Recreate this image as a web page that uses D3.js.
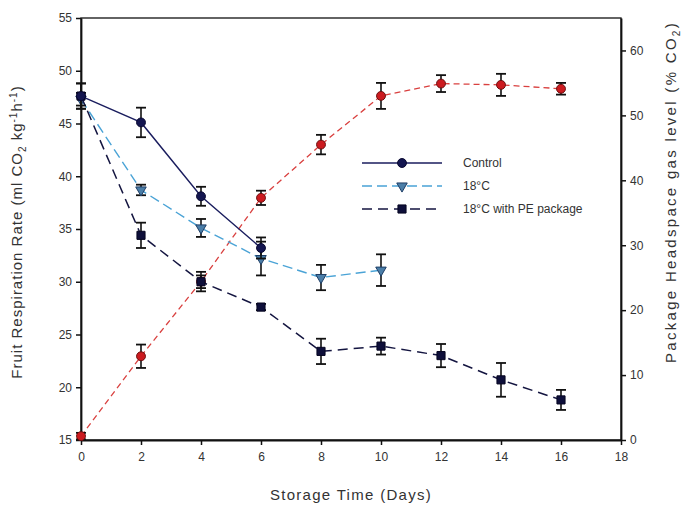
<!DOCTYPE html>
<html>
<head>
<meta charset="utf-8">
<script src="https://cdn.jsdelivr.net/npm/d3@7"></script>
<style>
  body { margin: 0; background: #fff; }
  text { font-family: "Liberation Sans", Arial, sans-serif; fill: #333; }
</style>
</head>
<body>
<div id="chart"></div>
<script>
// days and values
var days = [0, 2, 4, 6, 8, 10, 12, 14, 16]
var xTicks = [0, 2, 4, 6, 8, 10, 12, 14, 16, 18]
var leftTicks = [15, 20, 25, 30, 35, 40, 45, 50, 55]
var rightTicks = [0, 10, 20, 30, 40, 50, 60]

var controlVals = [47.6, 45.1, 38.1, 33.2]
var controlErr = [1.2, 1.4, 0.9, 1.0]
var c18Vals = [47.3, 38.7, 35.1, 32.2, 30.4, 31.1]
var c18Err = [0.6, 0.5, 0.85, 1.6, 1.2, 1.5]
var peVals = [47.6, 34.4, 30.0, 27.6, 23.4, 23.9, 23.0, 20.7, 18.8]
var peErr = [1.2, 1.2, 0.6, 0.3, 1.2, 0.8, 1.1, 1.6, 0.95]
var co2Vals = [0.6, 12.9, 24.4, 37.3, 45.5, 53.0, 54.9, 54.7, 54.1]
var co2Err = [0.5, 1.8, 1.5, 1.1, 1.5, 2.0, 1.3, 1.7, 0.9]

var width = 686, height = 514
var margin = {top: 18, right: 65, bottom: 74, left: 81}

var svg = d3.select("#chart").append("svg")
  .attr("width", width).attr("height", height)

var x = d3.scaleLinear().domain([0, 18]).range([margin.left, width - margin.right])
var y = d3.scaleLinear().domain([15, 55]).range([height - margin.bottom, margin.top])
var y2 = d3.scaleLinear().domain([0, 65]).range([height - margin.bottom, margin.top])

// frame
svg.append("rect")
  .attr("x", x(0)).attr("y", y(55))
  .attr("width", x(18) - x(0)).attr("height", y(15) - y(55))
  .attr("fill", "none").attr("stroke", "#111").attr("stroke-width", 1.3)

function styleAxis(g) {
  g.select(".domain").attr("stroke", "#111").attr("stroke-width", 1.8)
  g.selectAll(".tick line").attr("stroke", "#111").attr("stroke-width", 1.5)
  g.selectAll(".tick text").style("font-size", "12px").attr("fill", "#333")
}

svg.append("g")
  .attr("transform", "translate(0," + y(15) + ")")
  .call(d3.axisBottom(x).tickValues(xTicks).tickSize(5).tickSizeOuter(0).tickPadding(7))
  .call(styleAxis)

svg.append("g")
  .attr("transform", "translate(" + x(0) + ",0)")
  .call(d3.axisLeft(y).tickValues(leftTicks).tickSize(5).tickSizeOuter(0).tickPadding(4))
  .call(styleAxis)

svg.append("g")
  .attr("transform", "translate(" + x(18) + ",0)")
  .call(d3.axisRight(y2).tickValues(rightTicks).tickSize(5).tickSizeOuter(0).tickPadding(4))
  .call(styleAxis)

// axis titles
svg.append("text")
  .attr("x", (x(0) + x(18)) / 2).attr("y", 500)
  .attr("text-anchor", "middle").style("font-size", "15px")
  .style("letter-spacing", "1.3px")
  .text("Storage Time (Days)")

var lt = svg.append("text")
  .attr("transform", "translate(22,232) rotate(-90)")
  .attr("text-anchor", "middle").style("font-size", "15px")
  .style("letter-spacing", "1px")
lt.append("tspan").text("Fruit Respiration Rate (ml CO")
lt.append("tspan").attr("dy", 4).style("font-size", "10px").text("2")
lt.append("tspan").attr("dy", -4).text(" kg")
lt.append("tspan").attr("dy", -5).style("font-size", "10px").text("-1")
lt.append("tspan").attr("dy", 5).text("h")
lt.append("tspan").attr("dy", -5).style("font-size", "10px").text("-1")
lt.append("tspan").attr("dy", 5).text(")")

var rt = svg.append("text")
  .attr("transform", "translate(676,192) rotate(-90)")
  .attr("text-anchor", "middle").style("font-size", "15px")
  .style("letter-spacing", "2.3px")
rt.append("tspan").text("Package  Headspace gas level (% CO")
rt.append("tspan").attr("dy", 4).style("font-size", "10px").text("2")
rt.append("tspan").attr("dy", -4).text(")")

// series
var series = [
  {name: "co2", vals: co2Vals, err: co2Err, scale: y2, line: "#d9403f", dash: "6,4", width: 1.3,
   symbol: d3.symbolCircle, size: 62, fill: "#cc1a1f", stroke: "#6a1010", rot: 0},
  {name: "c18", vals: c18Vals, err: c18Err, scale: y, line: "#4aa3d6", dash: "10,5", width: 1.4,
   symbol: d3.symbolTriangle, size: 48, fill: "#4b7ea8", stroke: "#1e3e66", rot: 180},
  {name: "pe", vals: peVals, err: peErr, scale: y, line: "#141540", dash: "10,6", width: 1.5,
   symbol: d3.symbolSquare, size: 66, fill: "#0e0f3a", stroke: "#050520", rot: 0},
  {name: "control", vals: controlVals, err: controlErr, scale: y, line: "#1a1d5e", dash: null, width: 1.4,
   symbol: d3.symbolCircle, size: 62, fill: "#141650", stroke: "#080830", rot: 0}
]

series.forEach(function(s) {
  var pts = s.vals.map(function(v, i) { return {day: days[i], v: v, e: s.err[i]} })
  var line = d3.line().x(function(d) { return x(d.day) }).y(function(d) { return s.scale(d.v) })
  svg.append("path").datum(pts)
    .attr("d", line).attr("fill", "none")
    .attr("stroke", s.line).attr("stroke-width", s.width)
    .attr("stroke-dasharray", s.dash)

  var eb = svg.append("g").selectAll("g").data(pts).enter().append("g")
  eb.append("line")
    .attr("x1", function(d) { return x(d.day) }).attr("x2", function(d) { return x(d.day) })
    .attr("y1", function(d) { return s.scale(d.v - d.e) }).attr("y2", function(d) { return s.scale(d.v + d.e) })
    .attr("stroke", "#111").attr("stroke-width", 1.6)
  ;[-1, 1].forEach(function(sign) {
    eb.append("line")
      .attr("x1", function(d) { return x(d.day) - 5 }).attr("x2", function(d) { return x(d.day) + 5 })
      .attr("y1", function(d) { return s.scale(d.v + sign * d.e) })
      .attr("y2", function(d) { return s.scale(d.v + sign * d.e) })
      .attr("stroke", "#111").attr("stroke-width", 1.8)
  })

  svg.append("g").selectAll("path").data(pts).enter().append("path")
    .attr("d", d3.symbol().type(s.symbol).size(s.size))
    .attr("transform", function(d) { return "translate(" + x(d.day) + "," + s.scale(d.v) + ") rotate(" + s.rot + ")" })
    .attr("fill", s.fill).attr("stroke", s.stroke).attr("stroke-width", 1)
})

// legend
var legendItems = [
  {label: "Control", s: series[3]},
  {label: "18\u00B0C", s: series[1]},
  {label: "18\u00B0C with PE package", s: series[2]}
]
var legend = svg.append("g")
legendItems.forEach(function(item, i) {
  var ly = 163 + i * 23
  legend.append("line")
    .attr("x1", 362).attr("x2", 442).attr("y1", ly).attr("y2", ly)
    .attr("stroke", item.s.line).attr("stroke-width", item.s.width)
    .attr("stroke-dasharray", item.s.dash)
  legend.append("path")
    .attr("d", d3.symbol().type(item.s.symbol).size(item.s.size))
    .attr("transform", "translate(402," + ly + ") rotate(" + item.s.rot + ")")
    .attr("fill", item.s.fill).attr("stroke", item.s.stroke)
  legend.append("text")
    .attr("x", 463).attr("y", ly + 4)
    .style("font-size", "12px")
    .text(item.label)
})
</script>
</body>
</html>
